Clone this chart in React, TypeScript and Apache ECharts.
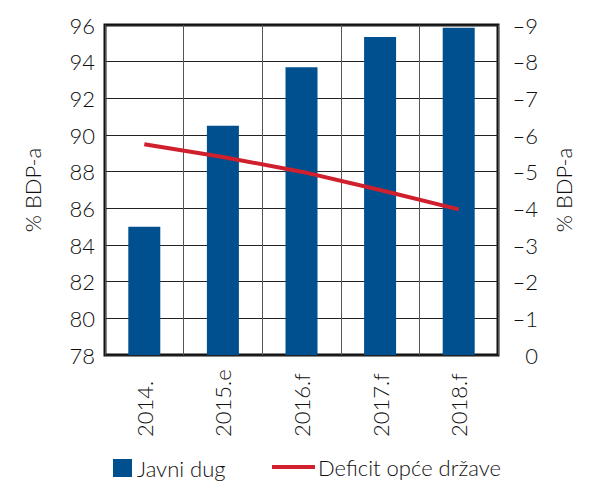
import React, { useEffect, useRef } from "react";
import * as echarts from "echarts";

const categories = ["2014.", "2015.e", "2016.f", "2017.f", "2018.f"];
const javniDug = [85.0, 90.5, 93.7, 95.35, 95.85];
const deficit = [-5.75, -5.4, -5.0, -4.5, -3.97];
const leftName = "% BDP-a";
const rightName = "% BDP-a";

const FONT = "Lato";
const TXT = "#111111";
const FS = 22;

export default function App() {
  const ref = useRef<HTMLDivElement>(null);
  useEffect(() => {
    const chart = echarts.init(ref.current!, null, { renderer: "svg" });
    chart.setOption({
      animation: false,
      textStyle: { fontFamily: FONT },
      grid: {
        left: 105,
        right: 112,
        top: 25,
        bottom: 130,
        show: true,
        borderColor: "#111",
        borderWidth: 3,
        backgroundColor: "transparent",
      },
      legend: [
        {
          data: ["Javni dug"],
          left: 108,
          top: 452,
          itemWidth: 19,
          itemHeight: 18,
          itemGap: 10,
          icon: "rect",
          textStyle: { fontFamily: FONT, fontSize: FS, fontWeight: 300, color: TXT },
        },
        {
          data: ["Deficit opće države"],
          left: 267,
          top: 451,
          itemWidth: 43,
          itemHeight: 4,
          icon: "rect",
          textStyle: { fontFamily: FONT, fontSize: FS, fontWeight: 300, color: TXT, padding: [0, 0, 0, -2] },
        },
      ],
      xAxis: {
        type: "category",
        data: categories,
        axisLine: { show: false },
        axisTick: { show: false },
        splitLine: { show: true, interval: 0, lineStyle: { color: "#555", width: 1 } },
        axisLabel: {
          rotate: 90,
          align: "left",
          fontSize: FS,
          fontWeight: 300,
          color: TXT,
          margin: 82,
          fontFamily: FONT,
          interval: 0,
        },
      },
      yAxis: [
        {
          type: "value",
          min: 78,
          max: 96,
          interval: 2,
          name: leftName,
          nameLocation: "middle",
          nameGap: 62,
          nameTextStyle: { fontSize: FS, fontWeight: 300, color: TXT, fontFamily: FONT },
          axisLine: { show: false },
          axisTick: { show: false },
          axisLabel: { fontSize: FS, fontWeight: 300, color: TXT, margin: 10, fontFamily: FONT },
          splitLine: { lineStyle: { color: "#222", width: 1 } },
        },
        {
          type: "value",
          min: -9,
          max: 0,
          interval: 1,
          inverse: true,
          position: "right",
          name: rightName,
          nameLocation: "middle",
          nameGap: 54,
          nameRotate: 90,
          nameTextStyle: { fontSize: FS, fontWeight: 300, color: TXT, fontFamily: FONT },
          axisLine: { show: false },
          axisTick: { show: false },
          splitLine: { show: false },
          axisLabel: {
            fontSize: FS,
            fontWeight: 300,
            color: TXT,
            margin: 40,
            align: "right",
            fontFamily: FONT,
            formatter: (v: number) => (v < 0 ? "–" + Math.abs(v) : String(v)),
          },
        },
      ],
      series: [
        {
          name: "Javni dug",
          type: "bar",
          data: javniDug,
          barWidth: 32,
          itemStyle: { color: "#00508f" },
          yAxisIndex: 0,
        },
        {
          name: "Deficit opće države",
          type: "line",
          data: deficit,
          yAxisIndex: 1,
          symbol: "none",
          lineStyle: { color: "#d0202e", width: 4 },
          itemStyle: { color: "#d0202e" },
        },
      ],
    });
    return () => chart.dispose();
  }, []);
  return <div ref={ref} style={{ width: 610, height: 485, position: "absolute", left: 0, top: 0 }} />;
}
